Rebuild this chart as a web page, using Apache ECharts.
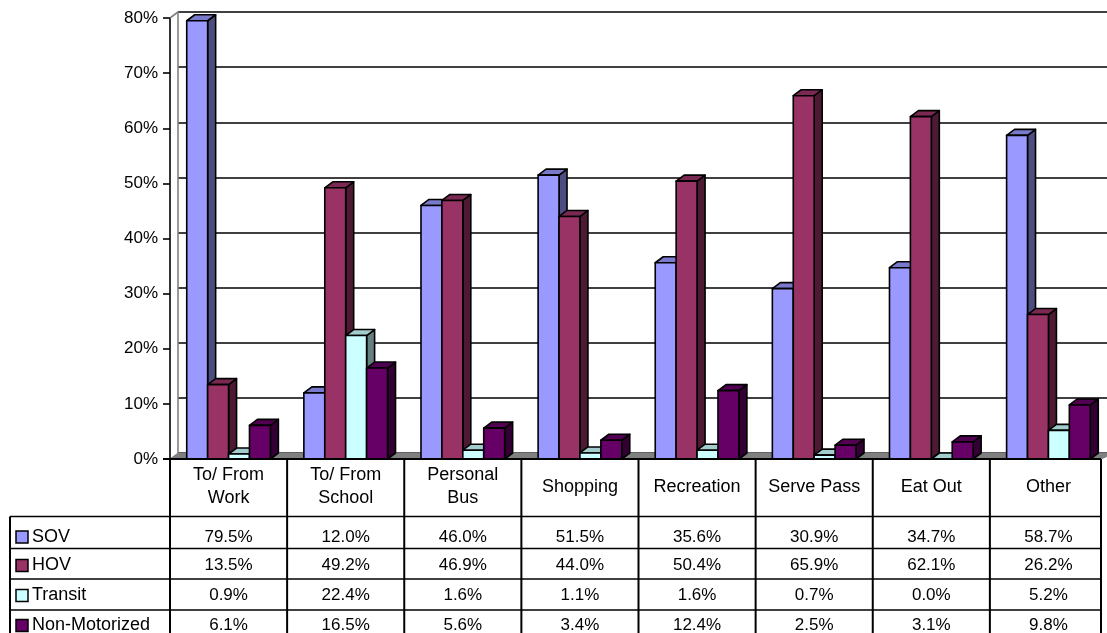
<!DOCTYPE html>
<html>
<head>
<meta charset="utf-8">
<script src="https://cdn.jsdelivr.net/npm/echarts@6/dist/echarts.min.js"></script>
<style>
  html, body { margin: 0; padding: 0; background: #ffffff; }
  #chart { width: 1107px; height: 633px; }
</style>
</head>
<body>
<div id="chart"></div>
<script>
// Trip purpose by travel mode (share of trips, %)
const categories = ['To/ From\nWork', 'To/ From\nSchool', 'Personal\nBus', 'Shopping', 'Recreation', 'Serve Pass', 'Eat Out', 'Other'];
const seriesNames = ['SOV', 'HOV', 'Transit', 'Non-Motorized'];
const sov = [79.5, 12.0, 46.0, 51.5, 35.6, 30.9, 34.7, 58.7];
const hov = [13.5, 49.2, 46.9, 44.0, 50.4, 65.9, 62.1, 26.2];
const transit = [0.9, 22.4, 1.6, 1.1, 1.6, 0.7, 0.0, 5.2];
const nonMotorized = [6.1, 16.5, 5.6, 3.4, 12.4, 2.5, 3.1, 9.8];
const Y_MIN = 0, Y_MAX = 80, Y_STEP = 10;

const seriesValues = [sov, hov, transit, nonMotorized];

// front / top / side shading of each 3D column
const palette = [
  { front: '#9999FF', top: '#7A7ACC', side: '#4D4D80' },
  { front: '#993366', top: '#7A2952', side: '#4D1A33' },
  { front: '#CCFFFF', top: '#A3CCCC', side: '#668080' },
  { front: '#660066', top: '#520052', side: '#330033' }
];

const FONT = '"Liberation Sans", Arial, Helvetica, sans-serif';
const W = 1107, H = 633;
const PLOT = { left: 170, top: 18, right: 0, bottom: 174 };
const DEPTH_X = 8, DEPTH_Y = 6;          // oblique depth of walls and columns
const GAP_WIDTH = 0.4;                   // gap between clusters, relative to the cluster width
const TABLE_LEFT = 10, TABLE_RIGHT = 1101;
const ROW_LINES = [516.5, 548.5, 579, 610, 641];
const ROW_TEXT_Y = [537, 565.5, 595.5, 625.5];

const axisY = H - PLOT.bottom;

function renderColumn(params, api) {
  const idx = api.value(0);
  const val = api.value(1);
  const band = api.size([1, 0])[0];
  const cluster = band / (1 + GAP_WIDTH);
  const bw = cluster / seriesValues.length;
  const base = api.coord([idx, 0]);
  const topPt = api.coord([idx, val]);
  const x0 = base[0] - cluster / 2 + params.seriesIndex * bw;
  const x1 = x0 + bw;
  const yb = base[1];
  const yt = topPt[1];
  const c = palette[params.seriesIndex];
  const edge = { stroke: '#000', lineWidth: 1.6, lineJoin: 'round' };
  const z2 = params.seriesIndex * 10 + idx * 100;
  return {
    type: 'group',
    children: [
      {
        type: 'polygon', z2: z2,
        shape: { points: [[x1, yb], [x1 + DEPTH_X, yb - DEPTH_Y], [x1 + DEPTH_X, yt - DEPTH_Y], [x1, yt]] },
        style: Object.assign({ fill: c.side }, edge)
      },
      {
        type: 'polygon', z2: z2 + 1,
        shape: { points: [[x0, yt], [x0 + DEPTH_X, yt - DEPTH_Y], [x1 + DEPTH_X, yt - DEPTH_Y], [x1, yt]] },
        style: Object.assign({ fill: c.top }, edge)
      },
      {
        type: 'rect', z2: z2 + 2,
        shape: { x: x0, y: yt, width: bw, height: yb - yt },
        style: Object.assign({ fill: c.front }, edge)
      }
    ]
  };
}

const chart = echarts.init(document.getElementById('chart'), null, { renderer: 'canvas' });

const option = {
  backgroundColor: '#ffffff',
  animation: false,
  textStyle: { fontFamily: FONT, color: '#000' },
  grid: [
    { left: PLOT.left, top: PLOT.top, right: PLOT.right, bottom: PLOT.bottom, containLabel: false },
    // back wall, shifted by the depth offset
    { left: PLOT.left + DEPTH_X, top: PLOT.top - DEPTH_Y, width: W - PLOT.left - PLOT.right, height: H - PLOT.top - PLOT.bottom, containLabel: false }
  ],
  xAxis: [
    {
      type: 'category', gridIndex: 0, data: categories,
      axisLine: { show: false }, axisTick: { show: false }, splitLine: { show: false },
      axisLabel: {
        interval: 0, margin: 28, verticalAlign: 'middle', lineHeight: 23,
        fontSize: 18, fontFamily: FONT, color: '#000'
      }
    },
    { type: 'category', gridIndex: 1, data: categories, show: false }
  ],
  yAxis: [
    {
      type: 'value', gridIndex: 0, min: Y_MIN, max: Y_MAX, interval: Y_STEP,
      axisLine: { show: true, lineStyle: { color: '#000', width: 1.6 } },
      axisTick: { show: true, length: 7, lineStyle: { color: '#000', width: 1.6 } },
      axisLabel: { formatter: '{value}%', fontSize: 17, margin: 12, color: '#000', fontFamily: FONT },
      splitLine: { show: false }
    },
    {
      type: 'value', gridIndex: 1, min: Y_MIN, max: Y_MAX, interval: Y_STEP,
      axisLine: { show: true, lineStyle: { color: '#808080', width: 1.6 } },
      axisTick: { show: false }, axisLabel: { show: false },
      splitLine: { show: true, lineStyle: { color: '#000', width: 1.5 } }
    }
  ],
  series: seriesValues.map((vals, s) => ({
    name: seriesNames[s],
    type: 'custom',
    xAxisIndex: 0, yAxisIndex: 0,
    z: 3,
    clip: false,
    renderItem: renderColumn,
    encode: { x: 0, y: 1 },
    data: vals.map((v, i) => [i, v])
  }))
};

chart.setOption(option);

// Floor, frame and data table drawn around the plot
function buildGraphic() {
  const g = [];
  const left = PLOT.left;
  const band = (W - PLOT.left - PLOT.right) / categories.length;

  // floor
  g.push({
    type: 'polygon', z: 1,
    shape: { points: [[left, axisY], [left + DEPTH_X, axisY - DEPTH_Y], [W + DEPTH_X, axisY - DEPTH_Y], [TABLE_RIGHT, axisY]] },
    style: { fill: '#808080', stroke: '#808080', lineWidth: 1 }
  });
  // wall top-left corner
  g.push({
    type: 'line', z: 1,
    shape: { x1: left, y1: PLOT.top, x2: left + DEPTH_X, y2: PLOT.top - DEPTH_Y },
    style: { stroke: '#808080', lineWidth: 1.6 }
  });
  // category axis line
  g.push({
    type: 'line', z: 5,
    shape: { x1: left - 7, y1: axisY, x2: TABLE_RIGHT, y2: axisY },
    style: { stroke: '#000', lineWidth: 1.8 }
  });

  // table vertical lines
  for (let k = 0; k < categories.length; k++) {
    const x = left + k * band;
    g.push({
      type: 'line', z: 5,
      shape: { x1: x, y1: axisY, x2: x, y2: H + 10 },
      style: { stroke: '#000', lineWidth: 2 }
    });
  }
  g.push({
    type: 'line', z: 5,
    shape: { x1: TABLE_RIGHT, y1: axisY, x2: TABLE_RIGHT, y2: H + 10 },
    style: { stroke: '#000', lineWidth: 2 }
  });
  g.push({
    type: 'line', z: 5,
    shape: { x1: TABLE_LEFT, y1: ROW_LINES[0], x2: TABLE_LEFT, y2: H + 10 },
    style: { stroke: '#000', lineWidth: 2 }
  });
  // table horizontal lines
  ROW_LINES.forEach(y => {
    g.push({
      type: 'line', z: 5,
      shape: { x1: TABLE_LEFT, y1: y, x2: TABLE_RIGHT, y2: y },
      style: { stroke: '#000', lineWidth: 1.6 }
    });
  });

  // legend keys and series names
  seriesNames.forEach((name, s) => {
    const ty = ROW_TEXT_Y[s];
    g.push({
      type: 'rect', z: 6,
      shape: { x: 16, y: ty - 6, width: 12, height: 12 },
      style: { fill: palette[s].front, stroke: '#000', lineWidth: 1.5 }
    });
    g.push({
      type: 'text', z: 6, x: 32, y: ty,
      style: { text: name, fontSize: 18, fontFamily: FONT, fill: '#000', align: 'left', verticalAlign: 'middle' }
    });
  });

  // value cells
  seriesValues.forEach((vals, s) => {
    vals.forEach((v, i) => {
      const cx = chart.convertToPixel({ xAxisIndex: 0 }, i);
      g.push({
        type: 'text', z: 6, x: cx, y: ROW_TEXT_Y[s],
        style: { text: v.toFixed(1) + '%', fontSize: 17, fontFamily: FONT, fill: '#000', align: 'center', verticalAlign: 'middle' }
      });
    });
  });
  return g;
}

chart.setOption({ graphic: { elements: buildGraphic() } });
</script>
</body>
</html>
